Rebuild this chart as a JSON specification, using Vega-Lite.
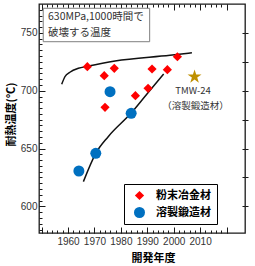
{
  "$schema": "https://vega.github.io/schema/vega-lite/v6.json",
  "width": 206,
  "height": 229,
  "autosize": {"type": "none"},
  "padding": {"left": 39, "top": 4, "right": 10, "bottom": 33},
  "config": {
    "view": {"stroke": "#1a1a1a", "strokeWidth": 1.3},
    "font": "Noto Sans CJK JP",
    "axis": {"grid": false, "domain": false, "labelFont": "Liberation Sans", "labelFontSize": 10, "labelColor": "#333", "tickColor": "#1a1a1a", "tickWidth": 1, "titleFont": "Noto Sans CJK JP", "titleFontWeight": "bold", "titleFontSize": 11, "titleColor": "#000"}
  },
  "resolve": {"axis": {"x": "independent", "y": "independent"}},
  "datasets": {
    "pts": [
      {"year": 1967.3, "temp": 720.8, "type": "粉末冶金材"},
      {"year": 1973.7, "temp": 713.0, "type": "粉末冶金材"},
      {"year": 1977.5, "temp": 719.4, "type": "粉末冶金材"},
      {"year": 1974.0, "temp": 685.7, "type": "粉末冶金材"},
      {"year": 1985.5, "temp": 695.7, "type": "粉末冶金材"},
      {"year": 1990.3, "temp": 702.1, "type": "粉末冶金材"},
      {"year": 1991.8, "temp": 718.8, "type": "粉末冶金材"},
      {"year": 1997.6, "temp": 718.2, "type": "粉末冶金材"},
      {"year": 2001.4, "temp": 729.4, "type": "粉末冶金材"},
      {"year": 1964.1, "temp": 630.6, "type": "溶製鍛造材"},
      {"year": 1970.5, "temp": 645.9, "type": "溶製鍛造材"},
      {"year": 1975.9, "temp": 699.2, "type": "溶製鍛造材"},
      {"year": 1983.9, "temp": 680.5, "type": "溶製鍛造材"}
    ],
    "curves": [
      {"curve": "upper", "year": 1957.6, "temp": 705.6},
      {"curve": "upper", "year": 1958.8, "temp": 712.1},
      {"curve": "upper", "year": 1960.7, "temp": 716.0},
      {"curve": "upper", "year": 1963.9, "temp": 719.4},
      {"curve": "upper", "year": 1967.3, "temp": 721.1},
      {"curve": "upper", "year": 1977.8, "temp": 725.7},
      {"curve": "upper", "year": 1998.6, "temp": 730.6},
      {"curve": "upper", "year": 2006.9, "temp": 732.8},
      {"curve": "lower", "year": 1965.8, "temp": 621.4},
      {"curve": "lower", "year": 1970.5, "temp": 645.9},
      {"curve": "lower", "year": 1975.2, "temp": 660.3},
      {"curve": "lower", "year": 1983.8, "temp": 680.5},
      {"curve": "lower", "year": 1989.8, "temp": 697.0},
      {"curve": "lower", "year": 1996.2, "temp": 714.5}
    ],
    "star": [{"year": 2007.9, "temp": 712.1, "name": "TMW-24"}],
    "tmw": [
      {"year": 2007.3, "temp": 700.0, "label": "TMW-24", "font": "Liberation Sans"},
      {"year": 2008.3, "temp": 686.8, "label": "（溶製鍛造材）", "font": "Noto Sans CJK JP"}
    ],
    "notes": [
      {"year": 1952.4, "temp": 763.4, "label": "630MPa,1000時間で"},
      {"year": 1952.4, "temp": 749.8, "label": "破壊する温度"}
    ],
    "box": [{"x1": 1950.6, "x2": 1990.9, "y1": 771.3, "y2": 742.4}]
  },
  "layer": [
    {
      "data": {"name": "box"},
      "mark": {"type": "rect", "fill": "#ffffff", "stroke": "#7f7f7f", "strokeWidth": 1},
      "encoding": {
        "x": {"field": "x1", "type": "quantitative", "scale": {"domain": [1949, 2027], "nice": false, "zero": false}, "axis": null},
        "x2": {"field": "x2"},
        "y": {"field": "y1", "type": "quantitative", "scale": {"domain": [577, 775], "nice": false, "zero": false}, "axis": null},
        "y2": {"field": "y2"}
      }
    },
    {
      "data": {"name": "notes"},
      "mark": {"type": "text", "align": "left", "baseline": "middle", "fontSize": 10.5, "color": "#333", "font": "Noto Sans CJK JP"},
      "encoding": {
        "x": {"field": "year", "type": "quantitative", "scale": {"domain": [1949, 2027], "nice": false, "zero": false}, "axis": null},
        "y": {"field": "temp", "type": "quantitative", "scale": {"domain": [577, 775], "nice": false, "zero": false}, "axis": null},
        "text": {"field": "label"}
      }
    },
    {
      "data": {"name": "curves"},
      "mark": {"type": "line", "color": "#111", "strokeWidth": 1.5, "interpolate": "monotone"},
      "encoding": {
        "x": {"field": "year", "type": "quantitative", "scale": {"domain": [1949, 2027], "nice": false, "zero": false}, "axis": null},
        "y": {"field": "temp", "type": "quantitative", "scale": {"domain": [577, 775], "nice": false, "zero": false}, "axis": null},
        "detail": {"field": "curve"}
      }
    },
    {
      "data": {"name": "pts"},
      "mark": {"type": "point", "filled": true, "opacity": 1, "strokeWidth": 0},
      "encoding": {
        "x": {"field": "year", "type": "quantitative", "scale": {"domain": [1949, 2027], "nice": false, "zero": false}, "axis": null},
        "y": {"field": "temp", "type": "quantitative", "scale": {"domain": [577, 775], "nice": false, "zero": false}, "axis": null},
        "color": {"field": "type", "type": "nominal", "scale": {"domain": ["粉末冶金材", "溶製鍛造材"], "range": ["#FF0000", "#0070C0"]},
          "legend": {"title": null, "orient": "none", "legendX": 85, "legendY": 180, "padding": 6, "symbolOffset": 3, "labelOffset": 10, "rowPadding": 5, "strokeColor": "#000", "fillColor": "#fff", "labelFont": "Noto Sans CJK JP", "labelFontWeight": "bold", "labelFontSize": 11, "labelColor": "#000", "symbolSize": 110}},
        "shape": {"field": "type", "type": "nominal", "scale": {"domain": ["粉末冶金材", "溶製鍛造材"], "range": ["diamond", "circle"]},
          "legend": {"title": null, "orient": "none", "legendX": 85, "legendY": 180, "padding": 6, "symbolOffset": 3, "labelOffset": 10, "rowPadding": 5, "strokeColor": "#000", "fillColor": "#fff", "labelFont": "Noto Sans CJK JP", "labelFontWeight": "bold", "labelFontSize": 11, "labelColor": "#000", "symbolSize": 110}},
        "size": {"field": "type", "type": "nominal", "scale": {"domain": ["粉末冶金材", "溶製鍛造材"], "range": [85, 121]}, "legend": null}
      }
    },
    {
      "data": {"name": "star"},
      "mark": {"type": "point", "filled": true, "opacity": 1, "color": "#BF9000", "size": 215, "strokeWidth": 0,
        "shape": "M0,-1L0.225,-0.309L0.951,-0.309L0.363,0.118L0.588,0.809L0,0.382L-0.588,0.809L-0.363,0.118L-0.951,-0.309L-0.225,-0.309Z"},
      "encoding": {
        "x": {"field": "year", "type": "quantitative", "scale": {"domain": [1949, 2027], "nice": false, "zero": false}, "axis": null},
        "y": {"field": "temp", "type": "quantitative", "scale": {"domain": [577, 775], "nice": false, "zero": false}, "axis": null}
      }
    },
    {
      "data": {"name": "tmw"},
      "mark": {"type": "text", "align": "center", "baseline": "middle", "fontSize": 9.5, "color": "#333"},
      "encoding": {
        "x": {"field": "year", "type": "quantitative", "scale": {"domain": [1949, 2027], "nice": false, "zero": false}, "axis": null},
        "y": {"field": "temp", "type": "quantitative", "scale": {"domain": [577, 775], "nice": false, "zero": false}, "axis": null},
        "text": {"field": "label"},
        "font": {"field": "font", "type": "nominal", "scale": null}
      }
    },
    {
      "data": {"name": "star"},
      "mark": {"type": "point", "opacity": 0},
      "encoding": {
        "x": {"field": "year", "type": "quantitative", "scale": {"domain": [1949, 2027], "nice": false, "zero": false},
          "axis": {"orient": "bottom", "values": [1960, 1970, 1980, 1990, 2000, 2010], "format": "d", "ticks": false, "labelPadding": 3, "title": "開発年度", "titleX": 114, "titleY": 25, "titleBaseline": "middle", "titleAlign": "center", "titleAnchor": null}},
        "y": {"field": "temp", "type": "quantitative", "scale": {"domain": [577, 775], "nice": false, "zero": false},
          "axis": {"orient": "left", "values": [600, 650, 700, 750], "format": "d", "ticks": false, "labelPadding": 2, "title": "耐熱温度(°C)", "titleX": -28, "titleY": 110, "titleAngle": -90, "titleBaseline": "middle", "titleAlign": "center", "titleAnchor": null}}
      }
    },
    {
      "data": {"name": "star"},
      "mark": {"type": "point", "opacity": 0},
      "encoding": {
        "x": {"field": "year", "type": "quantitative", "scale": {"domain": [1949, 2027], "nice": false, "zero": false},
          "axis": {"orient": "bottom", "values": [1950,1952,1954,1956,1958,1960,1962,1964,1966,1968,1970,1972,1974,1976,1978,1980,1982,1984,1986,1988,1990,1992,1994,1996,1998,2000,2002,2004,2006,2008,2010,2012,2014,2016,2018,2020], "labels": false, "tickSize": -3, "title": null}},
        "y": {"field": "temp", "type": "quantitative", "scale": {"domain": [577, 775], "nice": false, "zero": false},
          "axis": {"orient": "left", "values": [580,585,590,595,600,605,610,615,620,625,630,635,640,645,650,655,660,665,670,675,680,685,690,695,700,705,710,715,720,725,730,735,740,745,750,755,760,765,770], "labels": false, "tickSize": -3, "title": null}}
      }
    },
    {
      "data": {"name": "star"},
      "mark": {"type": "point", "opacity": 0},
      "encoding": {
        "x": {"field": "year", "type": "quantitative", "scale": {"domain": [1949, 2027], "nice": false, "zero": false},
          "axis": {"orient": "bottom", "values": [1950, 1960, 1970, 1980, 1990, 2000, 2010, 2020], "labels": false, "tickSize": -6, "title": null}},
        "y": {"field": "temp", "type": "quantitative", "scale": {"domain": [577, 775], "nice": false, "zero": false},
          "axis": {"orient": "left", "values": [600, 650, 700, 750], "labels": false, "tickSize": -6, "title": null}}
      }
    },
    {
      "data": {"name": "star"},
      "mark": {"type": "point", "opacity": 0},
      "encoding": {
        "x": {"field": "year", "type": "quantitative", "scale": {"domain": [1949, 2027], "nice": false, "zero": false},
          "axis": {"orient": "top", "values": [1950,1952,1954,1956,1958,1960,1962,1964,1966,1968,1970,1972,1974,1976,1978,1980,1982,1984,1986,1988,1990,1992,1994,1996,1998,2000,2002,2004,2006,2008,2010,2012,2014,2016,2018,2020], "labels": false, "tickSize": -3, "title": null}},
        "y": {"field": "temp", "type": "quantitative", "scale": {"domain": [577, 775], "nice": false, "zero": false},
          "axis": {"orient": "right", "values": [600, 625, 650, 675, 700, 725, 750], "labels": false, "tickSize": 3, "title": null}}
      }
    },
    {
      "data": {"name": "star"},
      "mark": {"type": "point", "opacity": 0},
      "encoding": {
        "x": {"field": "year", "type": "quantitative", "scale": {"domain": [1949, 2027], "nice": false, "zero": false},
          "axis": {"orient": "top", "values": [1950, 1960, 1970, 1980, 1990, 2000, 2010, 2020], "labels": false, "tickSize": -6, "title": null}},
        "y": {"field": "temp", "type": "quantitative", "scale": {"domain": [577, 775], "nice": false, "zero": false},
          "axis": {"orient": "right", "values": [600, 625, 650, 675, 700, 725, 750], "labels": false, "tickSize": -3, "title": null}}
      }
    }
  ]
}
